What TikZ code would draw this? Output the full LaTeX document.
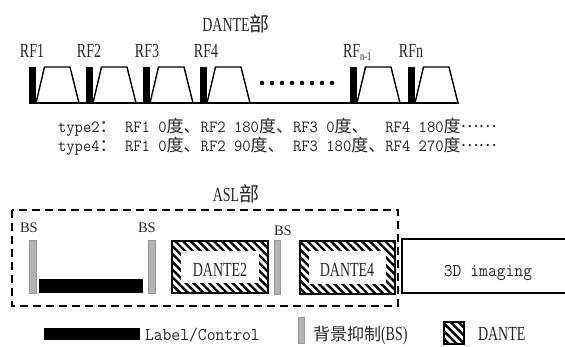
\documentclass[tikz,border=0pt]{standalone}
\usepackage{fontspec}
\setmainfont[FakeStretch=0.7]{Liberation Serif}
\newfontfamily\serifn{Liberation Serif}
\newfontfamily\cjk{Noto Sans CJK SC}
\newfontfamily\monof[FakeStretch=0.952]{Latin Modern Mono}
\usetikzlibrary{patterns.meta}
\newcommand\middots{\raisebox{5pt}{\cjk ……}}
\tikzset{
  lab/.style={font=\fontsize{20}{22}\selectfont, anchor=base},
  bslab/.style={font=\serifn\fontsize{14.5}{17}\selectfont, anchor=base west},
  monotext/.style={font=\monof\fontsize{18}{20}\selectfont, anchor=base},
  typeline/.style={font=\monof\fontsize{17}{20}\selectfont, anchor=base west},
  pulseline/.style={line width=1.4pt, line join=miter},
  hatch/.style={pattern={Lines[angle=-45,distance=5.5pt,line width=2.4pt]}},
  bsbar/.style={fill=gray!60, draw=gray!80, line width=0.6pt},
  boxline/.style={line width=1.5pt},
  dashbox/.style={line width=1.5pt, dash pattern=on 8pt off 5pt}
}
\begin{document}
\begin{tikzpicture}[x=1pt,y=-1pt, every node/.style={inner sep=0pt, outer sep=0pt, text=black!85}]
\useasboundingbox (0,0) rectangle (565,346);

% ---------- DANTE part ----------
\node[lab] (dtitle) at (236,31) {DANTE{\cjk 部}};

\node[lab] (rf1) at (32,57) {RF1};
\node[lab] (rf2) at (89,57) {RF2};
\node[lab] (rf3) at (147,57) {RF3};
\node[lab] (rf4) at (206,57) {RF4};
\node[lab, anchor=base west] (rfn1) at (343,57) {RF\raisebox{-3.5pt}{\fontsize{12}{13}\selectfont n-1}};
\node[lab] (rfn) at (411,57) {RFn};

\coordinate (b0) at (29,103);
\coordinate (b1) at (459,103);
\draw[line width=1.6pt] (b0) -- (b1);
\foreach \p in {29,86,143,200,350,408} {
  \fill (\p,67) rectangle (\p+7,103);
  \draw[pulseline] (\p+7,103) -- (\p+15.5,67) -- (\p+41,67) -- (\p+50,103);
}
\foreach \k in {0,...,7} \fill (262+10*\k,83) circle (2.3pt);

\node[typeline] (t2) at (58,132) {type2{\cjk ：}\ RF1 0{\cjk 度、}RF2 180{\cjk 度、}RF3 0{\cjk 度、}\ \ RF4 180{\cjk 度}\middots};
\node[typeline] (t4) at (58,151) {type4{\cjk ：}\ RF1 0{\cjk 度、}RF2 90{\cjk 度、}\ RF3 180{\cjk 度、}RF4 270{\cjk 度}\middots};

% ---------- ASL part ----------
\node[lab] (atitle) at (236,201) {ASL{\cjk 部}};
\draw[dashbox] (12,210) rectangle (398,306);

\node[bslab] (bs1) at (20,232) {BS};
\node[bslab] (bs2) at (138,232) {BS};
\node[bslab] (bs3) at (274,235) {BS};
\draw[bsbar] (29,240) rectangle (36,293);
\draw[bsbar] (148,240) rectangle (155,293);
\draw[bsbar] (274,240) rectangle (280,294);

\fill (39,279) rectangle (143,293);

% DANTE2
\fill[hatch] (172,241) rectangle (268,293);
\fill[white] (181,251) rectangle (259,283);
\draw[boxline] (172,241) rectangle (268,293);
\node[lab] (d2) at (220,276) {DANTE2};

% DANTE4
\fill[hatch] (300,241) rectangle (395,294);
\fill[white] (309,251) rectangle (386,284);
\draw[boxline] (300,241) rectangle (395,294);
\node[lab] (d4) at (347,276) {DANTE4};

% 3D imaging
\draw[boxline] (402,239) rectangle (580,293);
\node[monotext] (img) at (488,276) {3D imaging};

% ---------- legend ----------
\fill (44,328) rectangle (140,340);
\node[monotext, anchor=base west] (lc) at (145,340) {Label/Control};
\draw[bsbar] (298,317) rectangle (304,343);
\node[anchor=base west, font=\fontsize{20}{22}\selectfont] (bsl) at (313,340) {{\fontsize{17}{20}\selectfont\cjk 背景抑制}(BS)};
\fill[hatch] (444,322) rectangle (464,344);
\draw[line width=1.3pt] (444,322) rectangle (464,344);
\node[lab, anchor=base west] (dl) at (478,340) {DANTE};
\end{tikzpicture}
\end{document}
